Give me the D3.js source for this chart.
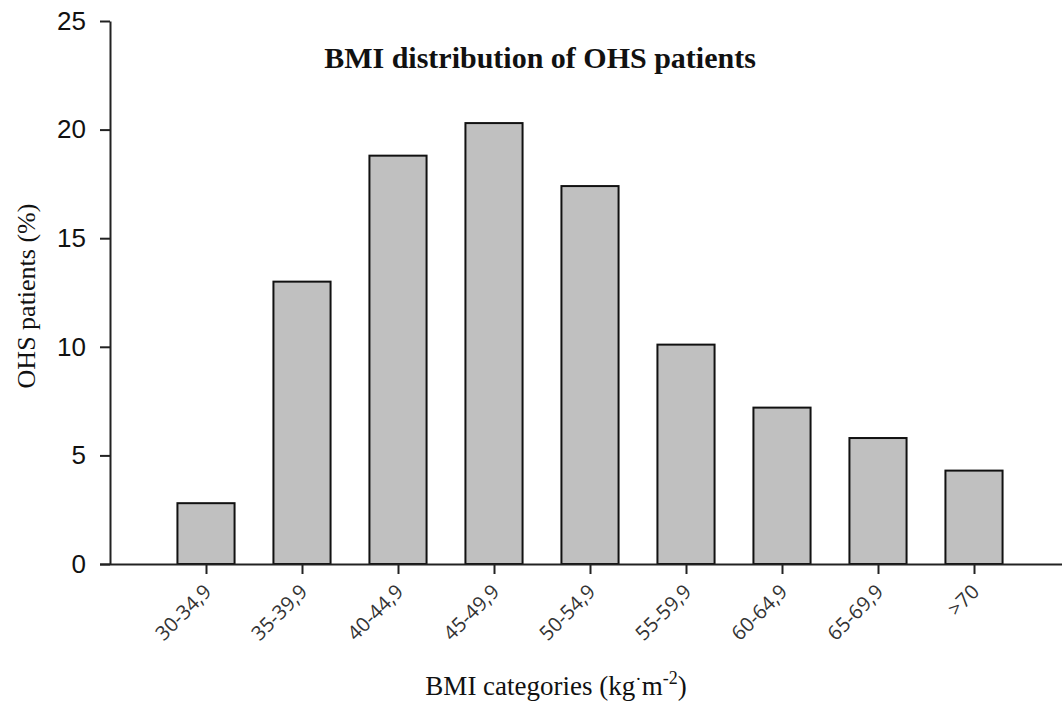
<!DOCTYPE html>
<html>
<head>
<meta charset="utf-8">
<script src="https://cdn.jsdelivr.net/npm/d3@7"></script>
<style>
  html, body { margin: 0; padding: 0; background: #fff; }
  svg { display: block; }
</style>
</head>
<body>
<svg id="chart" width="1062" height="702"></svg>
<script>
// BMI categories and share of OHS patients in each (%)
const categories = ["30-34,9", "35-39,9", "40-44,9", "45-49,9", "50-54,9", "55-59,9", "60-64,9", "65-69,9", ">70"];
const patientsPct = [2.8, 13.0, 18.8, 20.3, 17.4, 10.1, 7.2, 5.8, 4.3];
const yTicks = [0, 5, 10, 15, 20, 25];

const svg = d3.select("#chart");
const x0 = 110, x1 = 1070, yBottom = 564, yTop = 21;

const x = d3.scalePoint().domain(categories).range([x0, x1]).padding(1);
const y = d3.scaleLinear().domain([0, 25]).range([yBottom, yTop]);
const barW = x.step() * 0.595;

// bars
svg.append("g").selectAll("rect")
  .data(categories.map((c, i) => ({ c, v: patientsPct[i] })))
  .join("rect")
  .attr("x", d => x(d.c) - barW / 2)
  .attr("y", d => y(d.v))
  .attr("width", barW)
  .attr("height", d => y(0) - y(d.v))
  .attr("fill", "#c0c0c0")
  .attr("stroke", "#111")
  .attr("stroke-width", 2);

// y axis
const yAxis = svg.append("g")
  .attr("transform", `translate(${x0},0)`)
  .call(d3.axisLeft(y).tickValues(yTicks).tickSize(10).tickPadding(14).tickSizeOuter(0));
yAxis.select(".domain").attr("stroke", "#222").attr("stroke-width", 2);
yAxis.selectAll(".tick line").attr("stroke", "#222").attr("stroke-width", 2);
yAxis.selectAll(".tick text")
  .attr("font-family", "'Liberation Sans', Arial, sans-serif")
  .attr("font-size", 26)
  .attr("fill", "#111");

// x axis
const xAxis = svg.append("g")
  .attr("transform", `translate(0,${yBottom})`)
  .call(d3.axisBottom(x).tickSize(10).tickSizeOuter(0));
xAxis.select(".domain").attr("stroke", "#222").attr("stroke-width", 2)
  .attr("d", `M${x0 - 10},0.5H${x1}`);
xAxis.selectAll(".tick line").attr("stroke", "#222").attr("stroke-width", 2);
xAxis.selectAll(".tick text")
  .attr("font-family", "'Open Sans', 'Liberation Sans', sans-serif")
  .attr("font-size", 20)
  .attr("fill", "#333")
  .attr("text-anchor", "end")
  .attr("dy", null)
  .attr("y", 0)
  .attr("transform", "translate(6,29) rotate(-45)");

// title
svg.append("text")
  .attr("x", 540).attr("y", 68)
  .attr("text-anchor", "middle")
  .attr("font-family", "'Liberation Serif', 'Times New Roman', serif")
  .attr("font-weight", "bold")
  .attr("font-size", 30)
  .attr("fill", "#111")
  .text("BMI distribution of OHS patients");

// y axis title
svg.append("text")
  .attr("transform", "translate(35,296) rotate(-90)")
  .attr("text-anchor", "middle")
  .attr("font-family", "'Liberation Serif', 'Times New Roman', serif")
  .attr("font-size", 26)
  .attr("fill", "#111")
  .text("OHS patients (%)");

// x axis title with raised dot and superscript exponent
const xt = svg.append("text")
  .attr("x", 556).attr("y", 695)
  .attr("text-anchor", "middle")
  .attr("font-family", "'Liberation Serif', 'Times New Roman', serif")
  .attr("font-size", 27)
  .attr("fill", "#111");
xt.append("tspan").text("BMI categories (kg");
xt.append("tspan").attr("dy", -10).attr("font-size", 19).text("·");
xt.append("tspan").attr("dy", 10).text("m");
xt.append("tspan").attr("dy", -11).attr("font-size", 18).text("-2");
xt.append("tspan").attr("dy", 11).text(")");
</script>
</body>
</html>
